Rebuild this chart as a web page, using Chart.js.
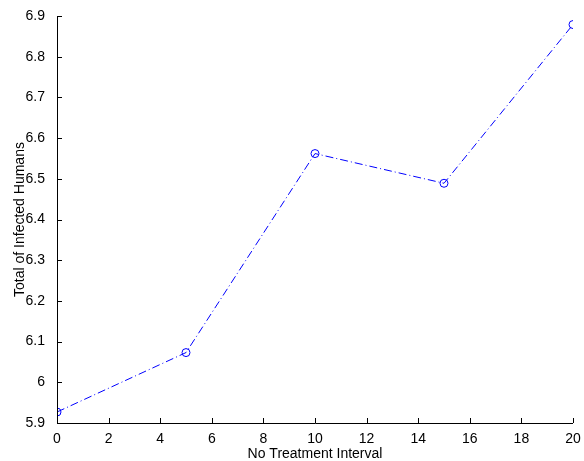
<!DOCTYPE html>
<html lang="en">
<head>
    <meta charset="UTF-8">
    <title>Infected Humans</title>
    <script src="https://cdn.jsdelivr.net/npm/chart.js@4.4.1/dist/chart.umd.min.js"></script>
    <style>
        html, body { margin:0; padding:0; background:#fff; overflow:hidden; }
    </style>
</head>
<body>
<canvas id="myChart" width="584" height="461"></canvas>
<script>
    // data
    var intervals = [0, 5, 10, 15, 20];
    var infected = [5.927, 6.073, 6.562, 6.489, 6.879];
    var xTicks = [0, 2, 4, 6, 8, 10, 12, 14, 16, 18, 20];
    var yTicks = [5.9, 6, 6.1, 6.2, 6.3, 6.4, 6.5, 6.6, 6.7, 6.8, 6.9];

    var points = [];
    for (var i = 0; i < intervals.length; i++) {
        points.push({x: intervals[i], y: infected[i]});
    }

    // inward tick marks like matlab
    var innerTicks = {
        id: 'innerTicks',
        afterDraw: function (chart) {
            var ctx = chart.ctx, a = chart.chartArea;
            var xs = chart.scales.x, ys = chart.scales.y;
            ctx.save();
            ctx.strokeStyle = '#000';
            ctx.lineWidth = 1;
            ctx.beginPath();
            ctx.moveTo(a.left + 0.5, a.top);
            ctx.lineTo(a.left + 0.5, a.bottom + 0.5);
            ctx.lineTo(a.right, a.bottom + 0.5);
            xs.ticks.forEach(function (t) {
                var px = Math.round(xs.getPixelForValue(t.value)) + 0.5;
                ctx.moveTo(px, a.bottom);
                ctx.lineTo(px, a.bottom - 5);
            });
            ys.ticks.forEach(function (t) {
                var py = Math.round(ys.getPixelForValue(t.value)) + 0.5;
                ctx.moveTo(a.left, py);
                ctx.lineTo(a.left + 5, py);
            });
            ctx.stroke();
            ctx.restore();
        }
    };

    var ctx = document.getElementById('myChart').getContext('2d');
    var myChart = new Chart(ctx, {
        type: 'scatter',
        data: {
            datasets: [{
                data: points,
                showLine: true,
                borderColor: '#0000ff',
                borderWidth: 1,
                borderDash: [8, 3, 1, 3],
                pointStyle: 'circle',
                pointRadius: 4,
                pointBorderColor: '#0000ff',
                pointBackgroundColor: 'rgba(0,0,0,0)',
                pointBorderWidth: 1,
                fill: false
            }]
        },
        options: {
            responsive: false,
            animation: false,
            devicePixelRatio: 1,
            layout: { padding: { top: 16, right: 11, left: 0, bottom: 0 } },
            plugins: { legend: { display: false }, tooltip: { enabled: false } },
            scales: {
                x: {
                    type: 'linear',
                    min: 0, max: 20,
                    afterBuildTicks: function (s) { s.ticks = xTicks.map(function (v) { return {value: v}; }); },
                    afterFit: function (s) { s.height = 38; },
                    border: { display: false },
                    grid: { display: false },
                    ticks: {
                        color: '#000',
                        font: { family: 'Liberation Sans', size: 14 },
                        padding: 0,
                        maxRotation: 0,
                        autoSkip: false
                    },
                    title: {
                        display: true,
                        text: 'No Treatment Interval',
                        color: '#000',
                        font: { family: 'Liberation Sans', size: 14 },
                        padding: { top: 0, bottom: -2 }
                    }
                },
                y: {
                    min: 5.9, max: 6.9,
                    afterBuildTicks: function (s) { s.ticks = yTicks.map(function (v) { return {value: v}; }); },
                    afterFit: function (s) { s.width = 57; },
                    border: { display: false },
                    grid: { display: false },
                    ticks: {
                        color: '#000',
                        font: { family: 'Liberation Sans', size: 14 },
                        padding: 4,
                        autoSkip: false,
                        callback: function (v) { return String(Math.round(v * 10) / 10); }
                    },
                    title: {
                        display: true,
                        text: 'Total of Infected Humans',
                        color: '#000',
                        font: { family: 'Liberation Sans', size: 14 },
                        padding: { top: 12, bottom: 0 }
                    }
                }
            }
        },
        plugins: [innerTicks]
    });
</script>
</body>
</html>
